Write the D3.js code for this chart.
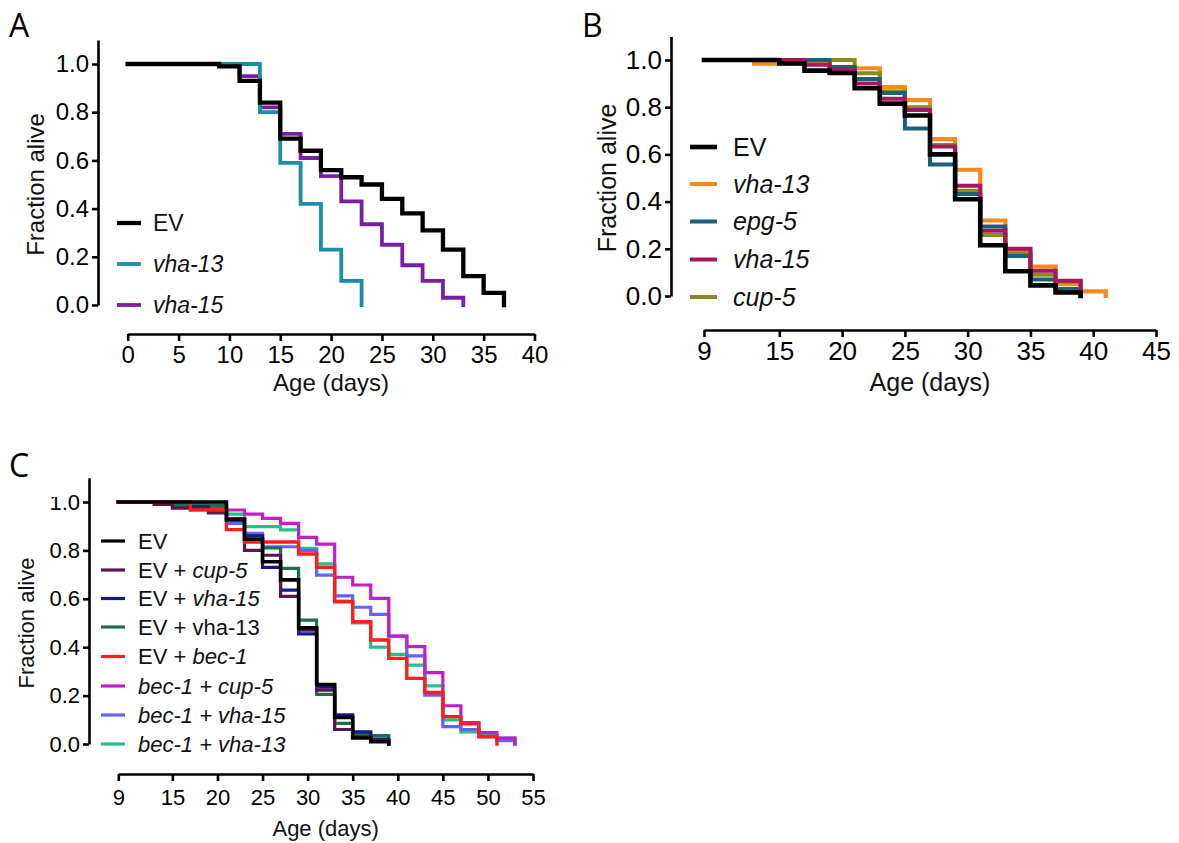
<!DOCTYPE html>
<html><head><meta charset="utf-8">
<script src="https://cdn.jsdelivr.net/npm/d3@7"></script>
<style>body{margin:0;background:#fff} svg{display:block}</style>
</head><body>
<svg id="c" width="1179" height="843"></svg>
<script>
// ---------------- DATA ----------------
// Panel A
const aNames = ["EV", "vha-13", "vha-15"];
const aDays_EV = [0, 9, 11, 13, 15, 17, 19, 21, 23, 25, 27, 29, 31, 33, 35, 37];
const aVals_EV = [1.0, 0.99, 0.93, 0.84, 0.69, 0.64, 0.56, 0.53, 0.50, 0.44, 0.38, 0.31, 0.23, 0.12, 0.05, 0];
const aDays_vha13 = [0, 13, 15, 17, 19, 21, 23];
const aVals_vha13 = [1.0, 0.80, 0.59, 0.42, 0.23, 0.10, 0];
const aDays_vha15 = [0, 11, 13, 15, 17, 19, 21, 23, 25, 27, 29, 31, 33];
const aVals_vha15 = [1.0, 0.95, 0.82, 0.71, 0.61, 0.535, 0.43, 0.335, 0.25, 0.165, 0.10, 0.03, 0];
const aXTicks = [0, 5, 10, 15, 20, 25, 30, 35, 40];

// Panel B
const bNames = ["EV", "vha-13", "epg-5", "vha-15", "cup-5"];
const bDays_EV = [9, 15, 17, 19, 21, 23, 25, 27, 29, 31, 33, 35, 37, 39];
const bVals_EV = [1.0, 0.985, 0.955, 0.945, 0.88, 0.815, 0.765, 0.60, 0.41, 0.215, 0.105, 0.045, 0.015, 0];
const bDays_vha13 = [9, 13, 19, 23, 25, 27, 29, 31, 33, 35, 37, 39, 41];
const bVals_vha13 = [1.0, 0.985, 0.965, 0.885, 0.83, 0.665, 0.535, 0.32, 0.19, 0.125, 0.05, 0.02, 0];
const bDays_epg5 = [9, 19, 21, 23, 25, 27, 29, 31, 33, 35, 37, 39];
const bVals_epg5 = [1.0, 0.97, 0.92, 0.86, 0.71, 0.557, 0.432, 0.294, 0.17, 0.07, 0.03, 0];
const bDays_vha15 = [9, 17, 19, 21, 23, 25, 27, 29, 31, 33, 35, 37, 39];
const bVals_vha15 = [1.0, 0.98, 0.96, 0.90, 0.836, 0.788, 0.633, 0.467, 0.277, 0.20, 0.107, 0.065, 0];
const bDays_cup5 = [9, 21, 23, 25, 27, 29, 31, 33, 35, 37, 39];
const bVals_cup5 = [1.0, 0.944, 0.866, 0.80, 0.64, 0.446, 0.258, 0.18, 0.09, 0.06, 0];
const bXTicks = [9, 15, 20, 25, 30, 35, 40, 45];

// Panel C
const cNames = ["EV", "EV + cup-5", "EV + vha-15", "EV + vha-13", "EV + bec-1",
                "bec-1 + cup-5", "bec-1 + vha-15", "bec-1 + vha-13"];
const cDays_EV = [9, 21, 23, 25, 27, 29, 31, 33, 35, 37, 39];
const cVals_EV = [1.0, 0.926, 0.846, 0.753, 0.678, 0.48, 0.246, 0.11, 0.025, 0.01, 0];
const cDays_EVcup5 = [9, 13, 15, 19, 21, 23, 25, 27, 29, 31, 33, 35, 37, 39];
const cVals_EVcup5 = [1.0, 0.99, 0.975, 0.955, 0.93, 0.80, 0.78, 0.61, 0.47, 0.223, 0.06, 0.03, 0.015, 0];
const cDays_EVvha15 = [9, 17, 19, 21, 23, 25, 27, 29, 31, 33, 35, 37, 39];
const cVals_EVvha15 = [1.0, 0.98, 0.96, 0.93, 0.86, 0.73, 0.636, 0.455, 0.235, 0.12, 0.05, 0.02, 0];
const cDays_EVvha13 = [9, 13, 15, 21, 23, 25, 27, 29, 31, 33, 35, 37, 39];
const cVals_EVvha13 = [1.0, 0.99, 0.985, 0.93, 0.86, 0.81, 0.726, 0.512, 0.205, 0.085, 0.04, 0.035, 0];
const cDays_EVbec1 = [9, 17, 21, 23, 29, 31, 33, 35, 37, 39, 41, 43, 45, 47, 49, 51];
const cVals_EVbec1 = [1.0, 0.967, 0.886, 0.835, 0.785, 0.73, 0.588, 0.505, 0.43, 0.354, 0.271, 0.213, 0.113, 0.083, 0.03, 0];
const cDays_b1cup5 = [9, 17, 19, 21, 23, 25, 27, 29, 31, 33, 35, 37, 39, 41, 43, 45, 47, 49, 51, 53];
const cVals_b1cup5 = [1.0, 0.99, 0.98, 0.967, 0.95, 0.932, 0.912, 0.854, 0.826, 0.689, 0.657, 0.602, 0.446, 0.402, 0.295, 0.158, 0.088, 0.047, 0.024, 0];
const cDays_b1vha15 = [9, 15, 19, 21, 23, 25, 29, 31, 33, 35, 37, 39, 41, 43, 45, 47, 49, 51, 53];
const cVals_b1vha15 = [1.0, 0.99, 0.97, 0.912, 0.87, 0.815, 0.80, 0.698, 0.612, 0.565, 0.536, 0.446, 0.364, 0.202, 0.072, 0.06, 0.03, 0.014, 0];
const cDays_b1vha13 = [9, 13, 21, 23, 27, 29, 31, 33, 35, 37, 39, 41, 43, 45, 47, 49, 51, 53];
const cVals_b1vha13 = [1.0, 0.99, 0.95, 0.898, 0.885, 0.808, 0.744, 0.59, 0.50, 0.40, 0.37, 0.326, 0.24, 0.10, 0.05, 0.035, 0.024, 0];
const cXTicks = [9, 15, 20, 25, 30, 35, 40, 45, 50, 55];

const yTicks = [0, 0.2, 0.4, 0.6, 0.8, 1.0];

// ---------------- DRAWING ----------------
const svg = d3.select("#c");
const FONT = "'Liberation Sans', Arial, Helvetica, sans-serif";

function drawPanel(cfg) {
  const x = d3.scaleLinear().domain(cfg.xDomain).range(cfg.xRange);
  const y = d3.scaleLinear().domain([0, 1]).range(cfg.yRange);
  const yAx = d3.scaleLinear().domain([0, 1.1]).range([y(0), y(1.1)]);

  // panel letter
  svg.append("text").attr("x", cfg.letterPos[0]).attr("y", cfg.letterPos[1])
    .attr("font-family", "'Open Sans', 'Liberation Sans', sans-serif")
    .attr("font-size", 32).attr("fill", "#000").text(cfg.letter);

  // y axis
  const ya = svg.append("g").attr("transform", `translate(${cfg.yAxisX},0)`)
    .call(d3.axisLeft(yAx).tickValues(yTicks).tickFormat(d3.format(".1f"))
      .tickSize(6).tickSizeOuter(0).tickPadding(3));
  ya.attr("font-family", FONT).attr("font-size", cfg.fs);
  ya.selectAll("path,line").attr("stroke", "#000").attr("stroke-width", 2.6);
  ya.selectAll("text").attr("fill", "#000");

  // x axis
  const xa = svg.append("g").attr("transform", `translate(0,${cfg.xAxisY})`)
    .call(d3.axisBottom(x).tickValues(cfg.xTicks).tickSize(7).tickSizeOuter(0).tickPadding(cfg.xPad));
  xa.attr("font-family", FONT).attr("font-size", cfg.fs);
  xa.selectAll("path,line").attr("stroke", "#000").attr("stroke-width", 2.6);
  xa.selectAll("text").attr("fill", "#000");

  // titles
  svg.append("text").attr("transform", `translate(${cfg.yTitleX},${(y(0) + y(1)) / 2}) rotate(-90)`)
    .attr("text-anchor", "middle").attr("font-family", FONT).attr("font-size", cfg.fsT)
    .attr("fill", "#111").text("Fraction alive");
  svg.append("text").attr("x", (x(cfg.xDomain[0]) + x(cfg.xDomain[1])) / 2).attr("y", cfg.xTitleY)
    .attr("text-anchor", "middle").attr("font-family", FONT).attr("font-size", cfg.fsT)
    .attr("fill", "#111").text("Age (days)");

  // curves
  const line = d3.line().x(d => x(d[0])).y(d => y(d[1])).curve(d3.curveStepAfter);
  cfg.series.forEach(s => {
    svg.append("path").attr("d", line(d3.zip(s.days, s.vals)))
      .attr("fill", "none").attr("stroke", s.color).attr("stroke-width", s.w)
      .attr("stroke-linejoin", "miter").attr("stroke-linecap", "square");
  });

  // legend
  cfg.legend.forEach((it, i) => {
    const ly = cfg.legY[i];
    svg.append("line").attr("x1", cfg.legX[0]).attr("x2", cfg.legX[1])
      .attr("y1", ly).attr("y2", ly).attr("stroke", it.color).attr("stroke-width", it.w);
    const t = svg.append("text").attr("x", cfg.legX[2]).attr("y", ly)
      .attr("dy", "0.35em").attr("font-family", FONT).attr("font-size", cfg.fsL).attr("fill", "#111");
    it.parts.forEach(p => {
      t.append("tspan").attr("font-style", p[1] ? "italic" : "normal").text(p[0]);
    });
  });
  return {x, y};
}

// Panel A
drawPanel({
  letter: "A", letterPos: [9, 37],
  xDomain: [0, 40], xRange: [127.7, 534.5], yRange: [305, 64],
  yAxisX: 98, xAxisY: 334, xTicks: aXTicks, xPad: 5,
  yTitleX: 44, xTitleY: 391, fs: 24, fsT: 24, fsL: 23,
  series: [
    {days: aDays_vha15, vals: aVals_vha15, color: "#7a1fa2", w: 3.8},
    {days: aDays_vha13, vals: aVals_vha13, color: "#1b8ea6", w: 3.8},
    {days: aDays_EV, vals: aVals_EV, color: "#000000", w: 4.3}
  ],
  legX: [117, 141, 153], legY: [223, 264, 305],
  legend: [
    {color: "#000", w: 4.3, parts: [[aNames[0], false]]},
    {color: "#1b8ea6", w: 3.8, parts: [[aNames[1], true]]},
    {color: "#7a1fa2", w: 3.8, parts: [[aNames[2], true]]}
  ]
});

// Panel B
drawPanel({
  letter: "B", letterPos: [582, 37],
  xDomain: [9, 45], xRange: [704, 1156], yRange: [296, 60],
  yAxisX: 671, xAxisY: 330, xTicks: bXTicks, xPad: 5,
  yTitleX: 616, xTitleY: 391, fs: 26, fsT: 25, fsL: 25,
  series: [
    {days: bDays_vha13, vals: bVals_vha13, color: "#f28a1c", w: 4.2},
    {days: bDays_cup5, vals: bVals_cup5, color: "#8b8a18", w: 4},
    {days: bDays_epg5, vals: bVals_epg5, color: "#1b6176", w: 4},
    {days: bDays_vha15, vals: bVals_vha15, color: "#a8175e", w: 4},
    {days: bDays_EV, vals: bVals_EV, color: "#000000", w: 4.6}
  ],
  legX: [690, 717, 733], legY: [147, 184, 221.5, 259.5, 297],
  legend: [
    {color: "#000", w: 4.6, parts: [[bNames[0], false]]},
    {color: "#f28a1c", w: 4, parts: [[bNames[1], true]]},
    {color: "#1b6176", w: 4, parts: [[bNames[2], true]]},
    {color: "#a8175e", w: 4, parts: [[bNames[3], true]]},
    {color: "#8b8a18", w: 4, parts: [[bNames[4], true]]}
  ]
});

// Panel C
const cCols = ["#000000", "#5a1650", "#17178a", "#1f6e4b", "#ff1e1e", "#c020c8", "#6262f5", "#22c184"];
const cParts = [
  [["EV", false]],
  [["EV + ", false], ["cup-5", true]],
  [["EV + ", false], ["vha-15", true]],
  [["EV + vha-13", false]],
  [["EV + ", false], ["bec-1", true]],
  [["bec-1 + cup-5", true]],
  [["bec-1 + vha-15", true]],
  [["bec-1 + vha-13", true]]
];
const pc = drawPanel({
  letter: "C", letterPos: [9, 477],
  xDomain: [9, 55], xRange: [118.3, 533], yRange: [744, 502],
  yAxisX: 89, xAxisY: 774, xTicks: cXTicks, xPad: 8,
  yTitleX: 34, xTitleY: 836, fs: 22, fsT: 22, fsL: 22,
  series: [
    {days: cDays_b1vha13, vals: cVals_b1vha13, color: cCols[7], w: 3.2},
    {days: cDays_b1vha15, vals: cVals_b1vha15, color: cCols[6], w: 3.2},
    {days: cDays_b1cup5, vals: cVals_b1cup5, color: cCols[5], w: 3.2},
    {days: cDays_EVvha13, vals: cVals_EVvha13, color: cCols[3], w: 3.2},
    {days: cDays_EVvha15, vals: cVals_EVvha15, color: cCols[2], w: 3.2},
    {days: cDays_EVcup5, vals: cVals_EVcup5, color: cCols[1], w: 3.2},
    {days: cDays_EVbec1, vals: cVals_EVbec1, color: cCols[4], w: 3.4},
    {days: cDays_EV, vals: cVals_EV, color: cCols[0], w: 3.6}
  ],
  legX: [101, 125, 138], legY: [541, 570, 598.5, 627, 656.5, 686, 715, 744],
  legend: cNames.map((n, i) => ({color: cCols[i], w: 3.2, parts: cParts[i]}))
});

// the top of the "1" in panel C's 1.0 label is hidden in the original figure
svg.append("rect").attr("x", 52).attr("y", pc.y(1) - 10).attr("width", 10).attr("height", 5).attr("fill", "#fff");
</script>
</body></html>
